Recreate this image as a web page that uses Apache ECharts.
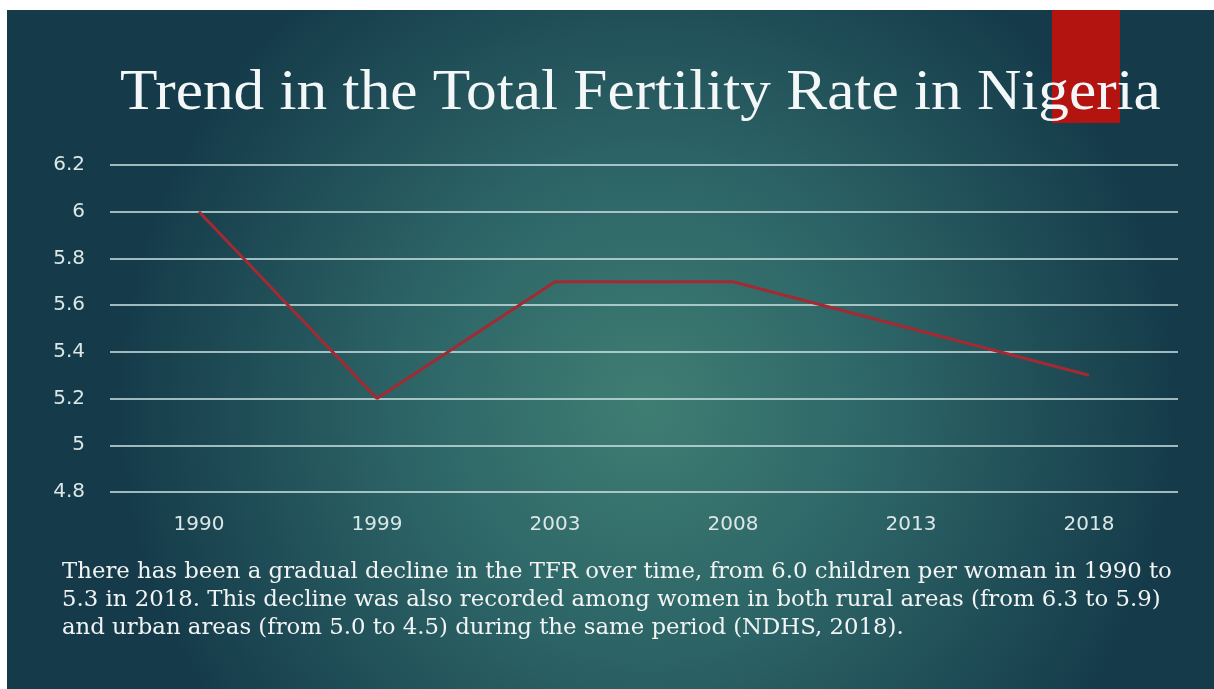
<!DOCTYPE html>
<html>
<head>
<meta charset="utf-8">
<script src="https://cdn.jsdelivr.net/npm/echarts@6/dist/echarts.min.js"></script>
<style>
  html, body { margin: 0; padding: 0; background: #fff; }
  #main { width: 1214px; height: 689px; }
</style>
</head>
<body>
<div id="main"></div>
<script>
var years = ['1990', '1999', '2003', '2008', '2013', '2018'];
var tfr = [6.0, 5.2, 5.7, 5.7, 5.5, 5.3];
var titleText = 'Trend in the Total Fertility Rate in Nigeria';
var noteLines = [
    'There has been a gradual decline in the TFR over time, from 6.0 children per woman in 1990 to',
    '5.3 in 2018. This decline was also recorded among women in both rural areas (from 6.3 to 5.9)',
    'and urban areas (from 5.0 to 4.5) during the same period (NDHS, 2018).'
];

var chart = echarts.init(document.getElementById('main'));

// slide background, red tab, title and caption
var graphics = [
    {
        type: 'rect', z: -10, silent: true,
        shape: { x: 7, y: 10, width: 1207, height: 679 },
        style: {
            fill: new echarts.graphic.RadialGradient(0.53, 0.58, 0.78, [
                { offset: 0, color: '#3f7e73' },
                { offset: 0.45, color: '#2d6567' },
                { offset: 1, color: '#153b4a' }
            ])
        }
    },
    {
        type: 'rect', z: -5, silent: true,
        shape: { x: 1052, y: 10, width: 68, height: 113 },
        style: { fill: '#b3140f' }
    },
    {
        type: 'text', x: 120, y: 66, scaleX: 1.095, originX: 0, originY: 0,
        style: {
            text: titleText,
            fill: '#f4f7f7',
            font: '56px "Liberation Serif", serif',
            verticalAlign: 'top'
        }
    }
];
noteLines.forEach(function (line, i) {
    graphics.push({
        type: 'text', x: 62, y: 561 + i * 28,
        style: {
            text: line,
            fill: '#f2f4f4',
            font: '22.8px "DejaVu Serif", serif',
            verticalAlign: 'top'
        }
    });
});

var option = {
    backgroundColor: '#ffffff',
    animation: false,
    graphic: graphics,
    grid: {
        left: 110,
        right: 36,
        top: 165,
        bottom: 197
    },
    xAxis: {
        type: 'category',
        data: years,
        axisLine: { show: false },
        axisTick: { show: false },
        axisLabel: {
            color: '#dbe7e7',
            fontSize: 20,
            fontFamily: 'DejaVu Sans',
            margin: 23
        }
    },
    yAxis: {
        type: 'value',
        min: 4.8,
        max: 6.2,
        interval: 0.2,
        axisLine: { show: false },
        axisTick: { show: false },
        axisLabel: {
            color: '#dbe7e7',
            fontSize: 20,
            fontFamily: 'DejaVu Sans',
            margin: 25,
            formatter: function (v) { return +v.toFixed(1) + ''; }
        },
        splitLine: {
            lineStyle: { color: 'rgba(205,228,228,0.75)', width: 2 }
        }
    },
    series: [{
        type: 'line',
        data: tfr,
        symbol: 'none',
        lineStyle: { color: '#a32a32', width: 3 }
    }]
};
chart.setOption(option);
</script>
</body>
</html>
